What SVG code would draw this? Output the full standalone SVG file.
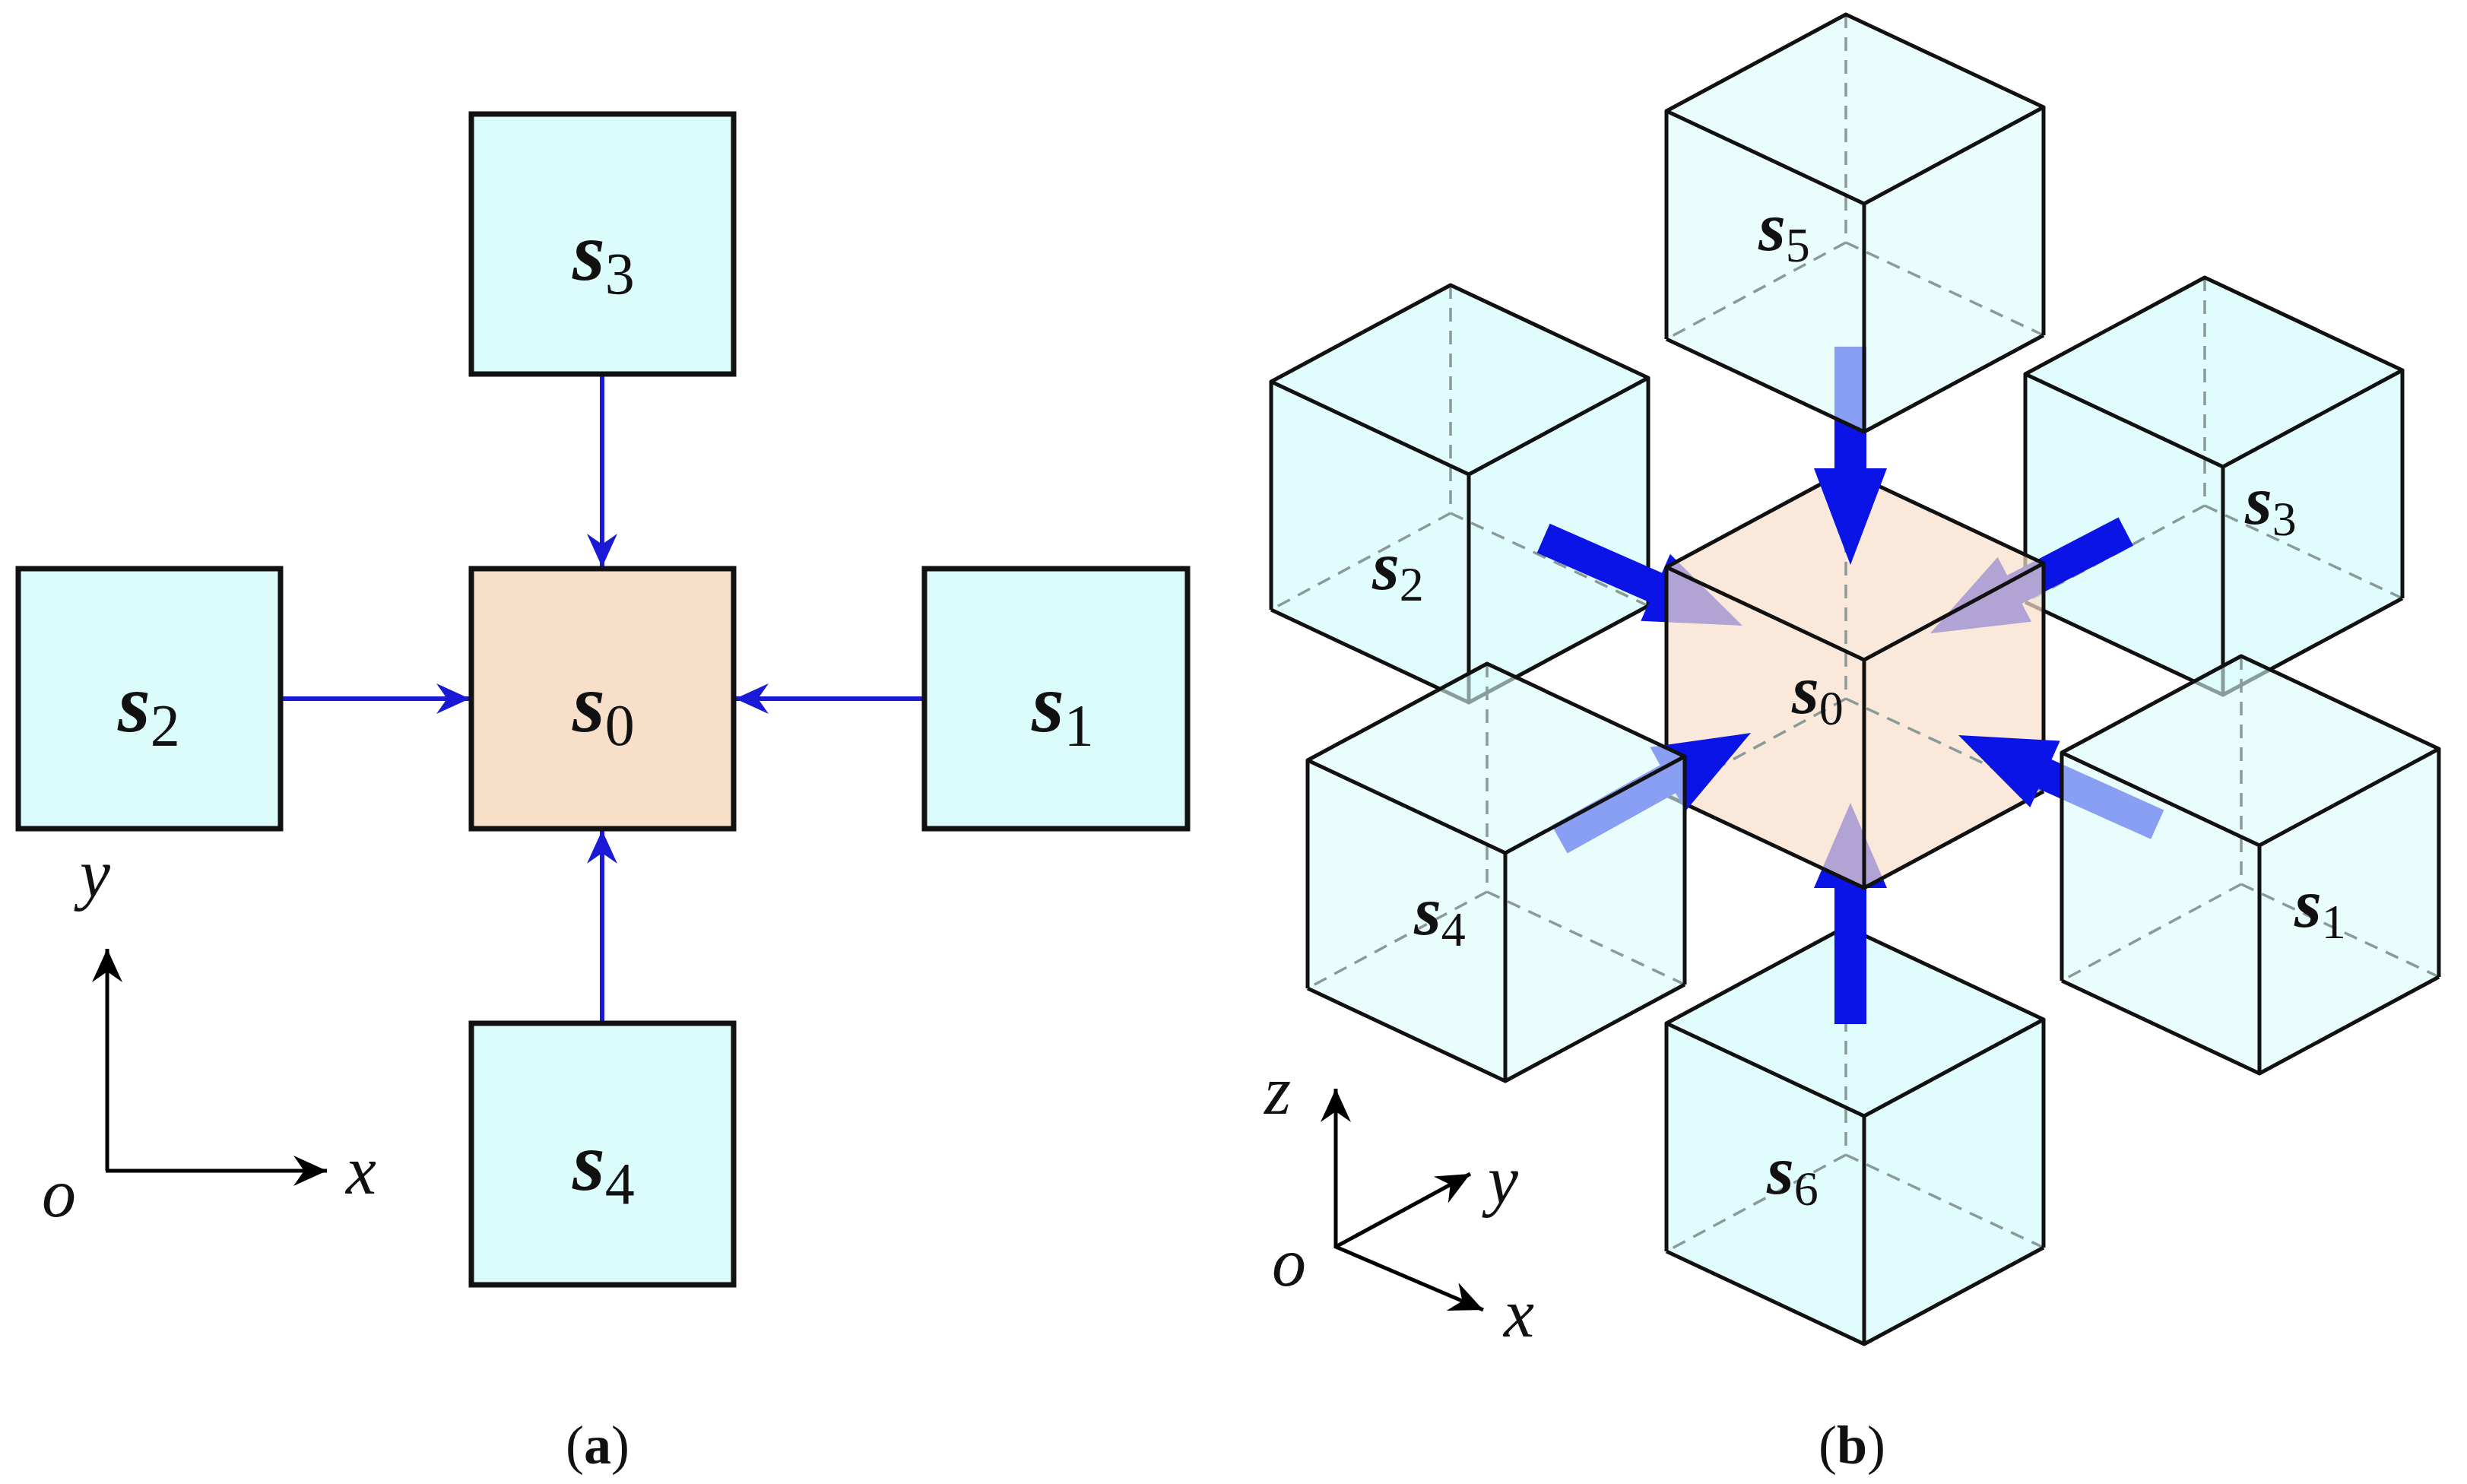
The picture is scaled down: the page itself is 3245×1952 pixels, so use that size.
<svg xmlns="http://www.w3.org/2000/svg" xmlns:xlink="http://www.w3.org/1999/xlink" width="3245" height="1952" viewBox="0 0 3245 1952">
<style>
.box{stroke:#111;stroke-width:7}
.cy{fill:#dcfbfb}
.pe{fill:#f8dfca}
.conn{stroke:#1a1ad6;stroke-width:6;fill:none}
.ax{stroke:#000;stroke-width:5;fill:none}
.lb{font-family:"Liberation Serif",serif;font-size:110px;font-weight:bold;font-style:italic;fill:#111}
.lbb{font-family:"Liberation Serif",serif;font-size:92px;font-weight:bold;font-style:italic;fill:#111}
.sub{font-weight:normal;font-style:normal;font-size:78px}
.subb{font-weight:normal;font-style:normal;font-size:64px}
.it{font-family:"Liberation Serif",serif;font-style:italic;font-size:90px;fill:#111}
.cap{font-family:"Liberation Serif",serif;font-size:72px;fill:#111}
.vis{stroke:#111;stroke-width:5;fill:none;stroke-linejoin:round}
.hid{stroke:#8a9999;stroke-width:3.5;stroke-dasharray:18 12;fill:none}
.big{fill:#0a14e6}
</style>
<defs>
<marker id="ah" viewBox="-45 -22 50 44" refX="0" refY="0" markerWidth="50" markerHeight="44" markerUnits="userSpaceOnUse" orient="auto">
<path d="M0,0 L-44,-20 L-30,0 L-44,20 Z" fill="#1a1ad6"/>
</marker>
<marker id="ahk" viewBox="-45 -22 50 44" refX="0" refY="0" markerWidth="50" markerHeight="44" markerUnits="userSpaceOnUse" orient="auto">
<path d="M0,0 L-44,-20 L-30,0 L-44,20 Z" fill="#000"/>
</marker>
<g id="cube">
<path d="M-260,-122 L-24,-249 L236,-127 L236,173 L0,300 L-260,178 Z" stroke="none"/>
<path class="hid" d="M-24,-249 V51 M-24,51 L-260,178 M-24,51 L236,173"/>
<path class="vis" d="M0,0 L-260,-122 L-24,-249 L236,-127 Z M0,0 V300 M-260,-122 V178 M236,-127 V173 M-260,178 L0,300 L236,173"/>
</g>
</defs>

<!-- Panel (a) -->
<g id="connectors-a">
<line class="conn" x1="792" y1="492" x2="792" y2="746" marker-end="url(#ah)"/>
<line class="conn" x1="792" y1="1346" x2="792" y2="1092" marker-end="url(#ah)"/>
<line class="conn" x1="369" y1="919" x2="618" y2="919" marker-end="url(#ah)"/>
<line class="conn" x1="1216" y1="919" x2="967" y2="919" marker-end="url(#ah)"/>
</g>
<g id="a-s0"><rect class="box pe" x="620" y="748" width="345" height="342"/><text class="lb" x="753" y="962">s<tspan class="sub" dy="18">0</tspan></text></g>
<g id="a-s3"><rect class="box cy" x="620" y="150" width="345" height="342"/><text class="lb" x="753" y="368">s<tspan class="sub" dy="18">3</tspan></text></g>
<g id="a-s4"><rect class="box cy" x="620" y="1346" width="345" height="344"/><text class="lb" x="753" y="1565">s<tspan class="sub" dy="18">4</tspan></text></g>
<g id="a-s2"><rect class="box cy" x="24" y="748" width="345" height="342"/><text class="lb" x="155" y="962">s<tspan class="sub" dy="18">2</tspan></text></g>
<g id="a-s1"><rect class="box cy" x="1216" y="748" width="346" height="342"/><text class="lb" x="1357" y="962">s<tspan class="sub" dy="18">1</tspan></text></g>
<g id="axes-a">
<line class="ax" x1="141" y1="1540" x2="141" y2="1248" marker-end="url(#ahk)"/>
<line class="ax" x1="139" y1="1540" x2="430" y2="1540" marker-end="url(#ahk)"/>
<text class="it" x="105" y="1180">y</text>
<text class="it" x="455" y="1570">x</text>
<text class="it" x="55" y="1600">o</text>
</g>
<text class="cap" x="786" y="1925" text-anchor="middle">(<tspan font-weight="bold">a</tspan>)</text>

<!-- Panel (b) -->
<g id="b-s2"><use xlink:href="#cube" x="1932" y="624" class="cy" fill-opacity="0.85"/><text class="lbb" x="1805" y="775">s<tspan class="subb" dy="15">2</tspan></text></g>
<g id="b-s3"><use xlink:href="#cube" x="2924" y="614" class="cy" fill-opacity="0.85"/><text class="lbb" x="2953" y="689">s<tspan class="subb" dy="15">3</tspan></text></g>
<g id="b-s6"><use xlink:href="#cube" x="2452" y="1468" class="cy" fill-opacity="0.85"/><text class="lbb" x="2324" y="1570">s<tspan class="subb" dy="15">6</tspan></text></g>
<g id="connectors-b1">
<path class="big" transform="translate(2292,823) rotate(23.7)" d="M0,0 L-125,-48 L-125,-21 L-286,-21 L-286,21 L-125,21 L-125,48 Z"/>
<path class="big" transform="translate(2539,833) rotate(152.5)" d="M0,0 L-125,-48 L-125,-21 L-290,-21 L-290,21 L-125,21 L-125,48 Z"/>
<path class="big" transform="translate(2434,1056) rotate(-90)" d="M0,0 L-112,-48 L-112,-21 L-291,-21 L-291,21 L-112,21 L-112,48 Z"/>
</g>
<g id="b-s0"><use xlink:href="#cube" x="2452" y="868" class="pe" fill-opacity="0.7"/><text class="lbb" x="2357" y="938">s<tspan class="subb" dy="15">0</tspan></text></g>
<g id="connectors-b2">
<path class="big" transform="translate(2434,743) rotate(90)" d="M0,0 L-127,-48 L-127,-21 L-287,-21 L-287,21 L-127,21 L-127,48 Z"/>
<path class="big" transform="translate(2303,964) rotate(-29.1)" d="M0,0 L-125,-48 L-125,-21 L-288,-21 L-288,21 L-125,21 L-125,48 Z"/>
<path class="big" transform="translate(2576,967) rotate(204.2)" d="M0,0 L-125,-48 L-125,-21 L-287,-21 L-287,21 L-125,21 L-125,48 Z"/>
</g>
<g id="b-s5"><use xlink:href="#cube" x="2452" y="268" class="cy" fill-opacity="0.6"/><text class="lbb" x="2313" y="329">s<tspan class="subb" dy="15">5</tspan></text></g>
<g id="b-s4"><use xlink:href="#cube" x="1980" y="1122" class="cy" fill-opacity="0.6"/><text class="lbb" x="1860" y="1229">s<tspan class="subb" dy="15">4</tspan></text></g>
<g id="b-s1"><use xlink:href="#cube" x="2972" y="1112" class="cy" fill-opacity="0.6"/><text class="lbb" x="3018" y="1219">s<tspan class="subb" dy="15">1</tspan></text></g>
<g id="axes-b">
<line class="ax" x1="1757" y1="1642" x2="1757" y2="1432" marker-end="url(#ahk)"/>
<line class="ax" x1="1757" y1="1640" x2="1934" y2="1544" marker-end="url(#ahk)"/>
<line class="ax" x1="1757" y1="1640" x2="1951" y2="1723" marker-end="url(#ahk)"/>
<text class="it" x="1663" y="1465">z</text>
<text class="it" x="1957" y="1583">y</text>
<text class="it" x="1978" y="1758">x</text>
<text class="it" x="1673" y="1691">o</text>
</g>
<text class="cap" x="2436" y="1925" text-anchor="middle">(<tspan font-weight="bold">b</tspan>)</text>
</svg>
